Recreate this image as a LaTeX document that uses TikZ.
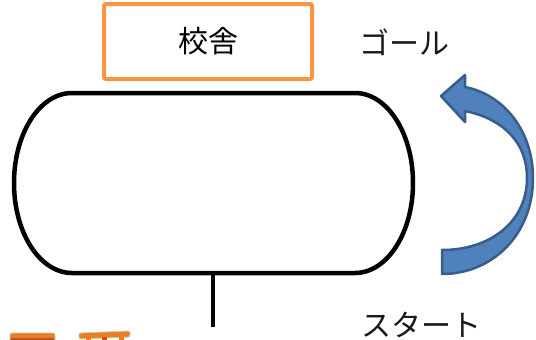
\documentclass[tikz,border=0pt]{standalone}
\usepackage{fontspec}
\newfontfamily\jpfont{Noto Sans CJK JP}
\definecolor{boxorange}{HTML}{F79646}
\definecolor{arrowfill}{HTML}{4F81BD}
\definecolor{arrowline}{HTML}{385D8A}
\definecolor{barorange}{HTML}{F07A2A}
\definecolor{bardark}{HTML}{B85A1E}
\definecolor{barrim}{HTML}{B8D88A}
\tikzset{
  jptext/.style={font=\jpfont\fontsize{30}{30}\selectfont, inner sep=0pt, text=black!90},
  schoolbox/.style={draw=boxorange, line width=4pt, rounded corners=2pt, minimum width=208pt, minimum height=75pt, inner sep=0pt, font=\jpfont\fontsize{30}{30}\selectfont},
  track/.style={draw=black, line width=4.5pt},
  bigarrow/.style={fill=arrowfill, draw=arrowline, line width=2.5pt, line join=round},
  bar/.style={fill=barorange, draw=barrim, line width=0.8pt, rounded corners=2pt}
}
\begin{document}
\begin{tikzpicture}[x=1pt,y=-1pt]
\useasboundingbox (0,0) rectangle (536,340);
% school box
\node[schoolbox] (school) at (208,41.5) {校舎};
% goal / start labels
\node[jptext] (goal) at (404,42) {ゴール};
\node[jptext] (start) at (421,325) {スタート};
% track
\draw[track] (72,93) -- (355,93)
  .. controls (387,93) and (413,133) .. (413,183)
  .. controls (413,233) and (387,273) .. (355,273)
  -- (72,273)
  .. controls (40,273) and (14,233) .. (14,183)
  .. controls (14,133) and (40,93) .. (72,93) -- cycle;
\coordinate (trackbottom) at (213,273);
\coordinate (lineend) at (213,327);
\draw[track] (trackbottom) -- (lineend);
% curved arrow
\draw[bigarrow] (442,274) .. controls (492,274) and (533,235) .. (533,178)
  .. controls (533,132) and (505,95) .. (465,87)
  -- (465,75) -- (441,96) -- (465,122) -- (465,111)
  .. controls (500,118) and (527,140) .. (527,178)
  .. controls (527,222) and (490,250) .. (442,250) -- cycle;
% clipped clip-art bars at bottom left
\begin{scope}
\clip (0,0) rectangle (536,340);
\path[bar] (10,333) rectangle (55,345);
\fill[bardark] (11,338) rectangle (54,345);
\path[bar] (79,333) -- (130,331) -- (130,337) -- (79,339) -- cycle;
\fill[barorange] (86,338) rectangle (91,345);
\fill[bardark] (102,337) rectangle (107,345);
\fill[barorange] (119,337) rectangle (124,345);
\end{scope}
\end{tikzpicture}
\end{document}
